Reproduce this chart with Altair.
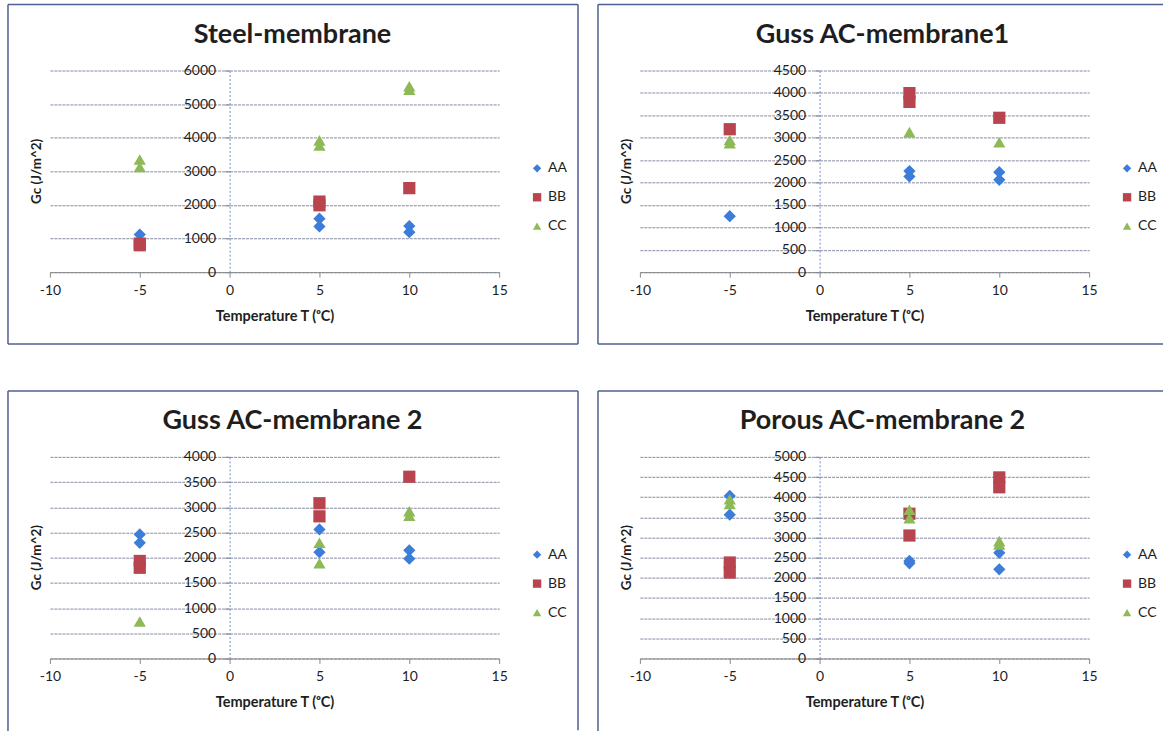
import altair as alt
import pandas as pd

series_names = ["AA", "BB", "CC"]
series_colors = ["#3B7DD8", "#B84450", "#8DB956"]
series_shapes = ["diamond", "square", "triangle-up"]

x_ticks = [-10, -5, 0, 5, 10, 15]

# Steel-membrane
steel_aa_t = [-5, 5, 5, 10, 10]
steel_aa_gc = [1120, 1590, 1360, 1370, 1190]
steel_bb_t = [-5, -5, 5, 5, 10]
steel_bb_gc = [850, 800, 2100, 1990, 2500]
steel_cc_t = [-5, -5, 5, 5, 10, 10]
steel_cc_gc = [3350, 3130, 3920, 3770, 5530, 5430]

# Guss AC-membrane1
guss1_aa_t = [-5, 5, 5, 10, 10]
guss1_aa_gc = [1250, 2255, 2135, 2230, 2060]
guss1_bb_t = [-5, 5, 5, 10]
guss1_bb_gc = [3190, 3995, 3800, 3445]
guss1_cc_t = [-5, -5, 5, 10]
guss1_cc_gc = [2950, 2880, 3125, 2900]

# Guss AC-membrane 2
guss2_aa_t = [-5, -5, 5, 5, 10, 10]
guss2_aa_gc = [2460, 2295, 2560, 2110, 2145, 1980]
guss2_bb_t = [-5, -5, 5, 5, 10]
guss2_bb_gc = [1935, 1800, 3080, 2820, 3605]
guss2_cc_t = [-5, 5, 5, 10, 10]
guss2_cc_gc = [735, 2295, 1890, 2920, 2830]

# Porous AC-membrane 2
porous_aa_t = [-5, -5, 5, 5, 10, 10]
porous_aa_gc = [4030, 3565, 2420, 2360, 2620, 2210]
porous_bb_t = [-5, -5, 5, 5, 10, 10]
porous_bb_gc = [2380, 2130, 3590, 3050, 4490, 4245]
porous_cc_t = [-5, -5, 5, 5, 10, 10]
porous_cc_gc = [3950, 3830, 3690, 3480, 2910, 2830]

FONT = "Lato"
INK = "#1E1E1E"
W, H = 450, 202
# frame of each chart box, relative to the plot area
BOX_L, BOX_R, BOX_T, BOX_B = -42, 529, -66, 274
RIGHT_EDGE = 524  # right-hand boxes run off the page


def series_frame(aa, bb, cc):
    rows = []
    for name, (ts, gs) in zip(series_names, (aa, bb, cc)):
        for t, g in zip(ts, gs):
            rows.append({"series": name, "t": t, "gc": g})
    return pd.DataFrame(rows)


def rule(x, x2, y, y2):
    enc = dict(x=alt.value(x), y=alt.value(y))
    if x2 is not None:
        enc["x2"] = alt.value(x2)
    if y2 is not None:
        enc["y2"] = alt.value(y2)
    return (
        alt.Chart(alt.Data(values=[{}]))
        .mark_rule(color="#4F5F8F", strokeWidth=1.5)
        .encode(**enc)
    )


def panel(title, df, y_max, y_step, right_col, bottom_row):
    right = RIGHT_EDGE if right_col else BOX_R
    edges = [
        rule(BOX_L, right, BOX_T, None),
        rule(BOX_L, None, BOX_T, BOX_B if not bottom_row else 275),
    ]
    if not bottom_row:
        edges.append(rule(BOX_L, right, BOX_B, None))
    if not right_col:
        edges.append(rule(BOX_R, None, BOX_T, BOX_B))

    legend = alt.Legend(
        orient="none", legendX=481, legendY=91, title=None, padding=0,
        labelFont=FONT, labelFontSize=14, labelColor=INK,
        symbolSize=70, rowPadding=15, labelOffset=4, symbolStrokeWidth=0,
    )
    x_enc = alt.X(
        "t:Q",
        scale=alt.Scale(domain=[-10, 15], nice=False, zero=False),
        axis=alt.Axis(
            values=x_ticks, grid=False, title="Temperature T (ᵒC)",
            labelExpr="toString(datum.value)",
            domainColor="#8A8A8A", tickColor="#8A8A8A", tickSize=5,
            labelFont=FONT, labelFontSize=14, labelColor=INK, labelPadding=6,
            titleFont=FONT, titleFontSize=14.5, titleFontWeight="bold",
            titleColor=INK, titlePadding=12, labelFlush=False,
        ),
    )
    y_enc = alt.Y(
        "gc:Q",
        scale=alt.Scale(domain=[0, y_max], nice=False, zero=True),
        axis=alt.Axis(
            values=list(range(0, y_max + 1, y_step)), offset=-180, title=None,
            grid=True, gridColor="#858BA3", gridWidth=1, gridDash=[3, 1],
            domainColor="#6F8CC6", domainDash=[2, 2], domainWidth=1,
            tickColor="#858BA3", tickSize=5, labelPadding=9,
            labelFont=FONT, labelFontSize=14, labelColor=INK, format="d",
        ),
    )
    points = (
        alt.Chart(df)
        .mark_point(filled=True, opacity=1, size=150)
        .encode(
            x=x_enc,
            y=y_enc,
            color=alt.Color("series:N", scale=alt.Scale(domain=series_names, range=series_colors), legend=legend),
            shape=alt.Shape("series:N", scale=alt.Scale(domain=series_names, range=series_shapes), legend=legend),
        )
    )
    heading = (
        alt.Chart(alt.Data(values=[{}]))
        .mark_text(text=title, font=FONT, fontSize=27, fontWeight="bold", color=INK, baseline="alphabetic")
        .encode(x=alt.value(243), y=alt.value(-28))
    )
    y_title = (
        alt.Chart(alt.Data(values=[{}]))
        .mark_text(text="Gc (J/m^2)", font=FONT, fontSize=13.5, fontWeight="bold", color=INK, angle=270, baseline="middle")
        .encode(x=alt.value(-13), y=alt.value(101))
    )
    return alt.layer(*edges, points, heading, y_title).properties(width=W, height=H)


p1 = panel("Steel-membrane", series_frame((steel_aa_t, steel_aa_gc), (steel_bb_t, steel_bb_gc), (steel_cc_t, steel_cc_gc)), 6000, 1000, False, False)
p2 = panel("Guss AC-membrane1", series_frame((guss1_aa_t, guss1_aa_gc), (guss1_bb_t, guss1_bb_gc), (guss1_cc_t, guss1_cc_gc)), 4500, 500, True, False)
p3 = panel("Guss AC-membrane 2", series_frame((guss2_aa_t, guss2_aa_gc), (guss2_bb_t, guss2_bb_gc), (guss2_cc_t, guss2_cc_gc)), 4000, 500, False, True)
p4 = panel("Porous AC-membrane 2", series_frame((porous_aa_t, porous_aa_gc), (porous_bb_t, porous_bb_gc), (porous_cc_t, porous_cc_gc)), 5000, 500, True, True)

indep = dict(x="independent", y="independent", color="independent", shape="independent")
top = alt.hconcat(p1, p2, spacing=18).resolve_scale(**indep)
bottom = alt.hconcat(p3, p4, spacing=18).resolve_scale(**indep)

chart = (
    alt.vconcat(top, bottom, spacing=45)
    .resolve_scale(**indep)
    .properties(padding={"left": 7, "top": 3, "right": 0, "bottom": 0}, background="white")
    .configure_view(stroke=None)
)

chart.save("out.html", embed_options={"renderer": "svg", "actions": False})
